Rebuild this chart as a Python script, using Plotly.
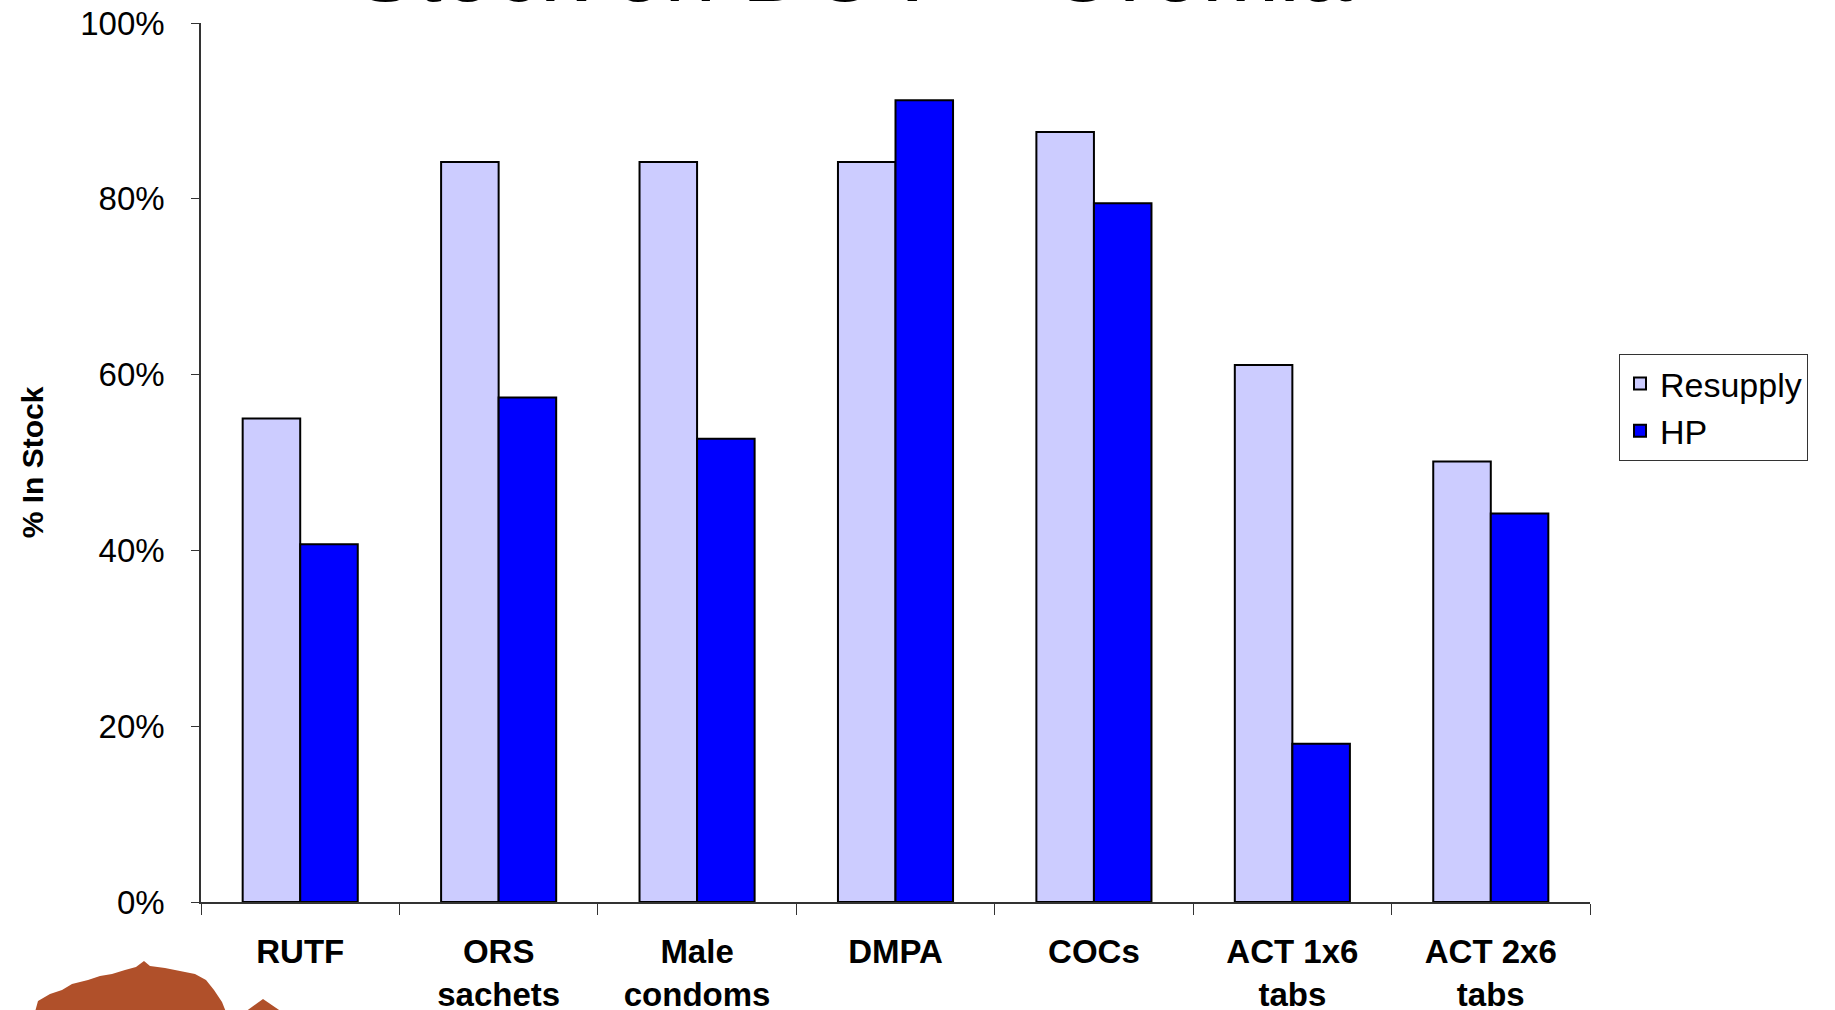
import plotly.graph_objects as go

# Stock availability on day of visit, by product
categories = ["RUTF", "ORS<br>sachets", "Male<br>condoms", "DMPA", "COCs",
              "ACT 1x6<br>tabs", "ACT 2x6<br>tabs"]
resupply = [0.55, 0.842, 0.842, 0.842, 0.876, 0.611, 0.501]
hp = [0.407, 0.574, 0.527, 0.912, 0.795, 0.180, 0.442]
y_ticks = [0, 0.2, 0.4, 0.6, 0.8, 1.0]
y_tick_text = ["0%", "20%", "40%", "60%", "80%", "100%"]

W, H = 1835, 1010
L, R, T, B = 201, 245, 23, 108
PW, PH = W - L - R, H - T - B


def px(x):
    return (x - L) / PW


def py(y):
    return (H - B - y) / PH


fig = go.Figure()
fig.add_trace(go.Bar(
    x=categories, y=resupply, name="Resupply",
    marker=dict(color="#CCCCFF", line=dict(color="#000000", width=2)),
))
fig.add_trace(go.Bar(
    x=categories, y=hp, name="HP",
    marker=dict(color="#0000FF", line=dict(color="#000000", width=2)),
))

font_family = "Liberation Sans, Arial, sans-serif"

fig.update_layout(
    width=W, height=H,
    margin=dict(l=L, r=R, t=T, b=B, autoexpand=False),
    paper_bgcolor="white", plot_bgcolor="white",
    barmode="group", bargap=0.42, bargroupgap=0,
    font=dict(family=font_family, color="#000000"),
    showlegend=True,
    legend=dict(
        x=px(1619), y=py(354), xanchor="left", yanchor="top",
        bordercolor="#333333", borderwidth=1, bgcolor="white",
        font=dict(size=34, family=font_family),
        tracegroupgap=2,
    ),
    xaxis=dict(
        showline=True, linecolor="#333333", linewidth=1.5,
        ticks="outside", ticklen=11, tickcolor="#333333",
        tickson="boundaries", showgrid=False,
        tickfont=dict(size=33, family=font_family, weight="bold"),
        ticklabelstandoff=20,
    ),
    yaxis=dict(
        range=[0, 1], tickvals=y_ticks, ticktext=y_tick_text,
        showline=True, linecolor="#333333", linewidth=1.5,
        ticks="outside", ticklen=8, tickcolor="#333333",
        showgrid=False, zeroline=False,
        tickfont=dict(size=33, family=font_family),
        ticklabelstandoff=20,
        title=dict(text="<b>% In Stock</b>", standoff=28,
                   font=dict(size=30, family=font_family)),
    ),
)

# Slide title running off the top edge
fig.add_annotation(
    text="Stock on DOV \u2013 Oromia", x=px(853), y=py(23),
    xref="paper", yref="paper", xanchor="center", yanchor="bottom",
    showarrow=False, font=dict(size=93, family=font_family, color="#000000"),
)

# Acacia tree emblem at the lower left
canopy = [(35, 1012), (38, 1001), (50, 994), (62, 990), (72, 984), (88, 980),
          (100, 976), (112, 974), (125, 970), (136, 967), (144, 961),
          (150, 966), (165, 968), (180, 971), (195, 974), (206, 980),
          (214, 990), (222, 1002), (226, 1012)]
roof = [(245, 1012), (263, 999), (282, 1012)]
for poly in (canopy, roof):
    path = "M " + " L ".join(f"{px(a):.5f},{py(b):.5f}" for a, b in poly) + " Z"
    fig.add_shape(type="path", path=path, xref="paper", yref="paper",
                  fillcolor="#B0502A", line=dict(width=0), layer="above")

fig.write_html("out.html")
